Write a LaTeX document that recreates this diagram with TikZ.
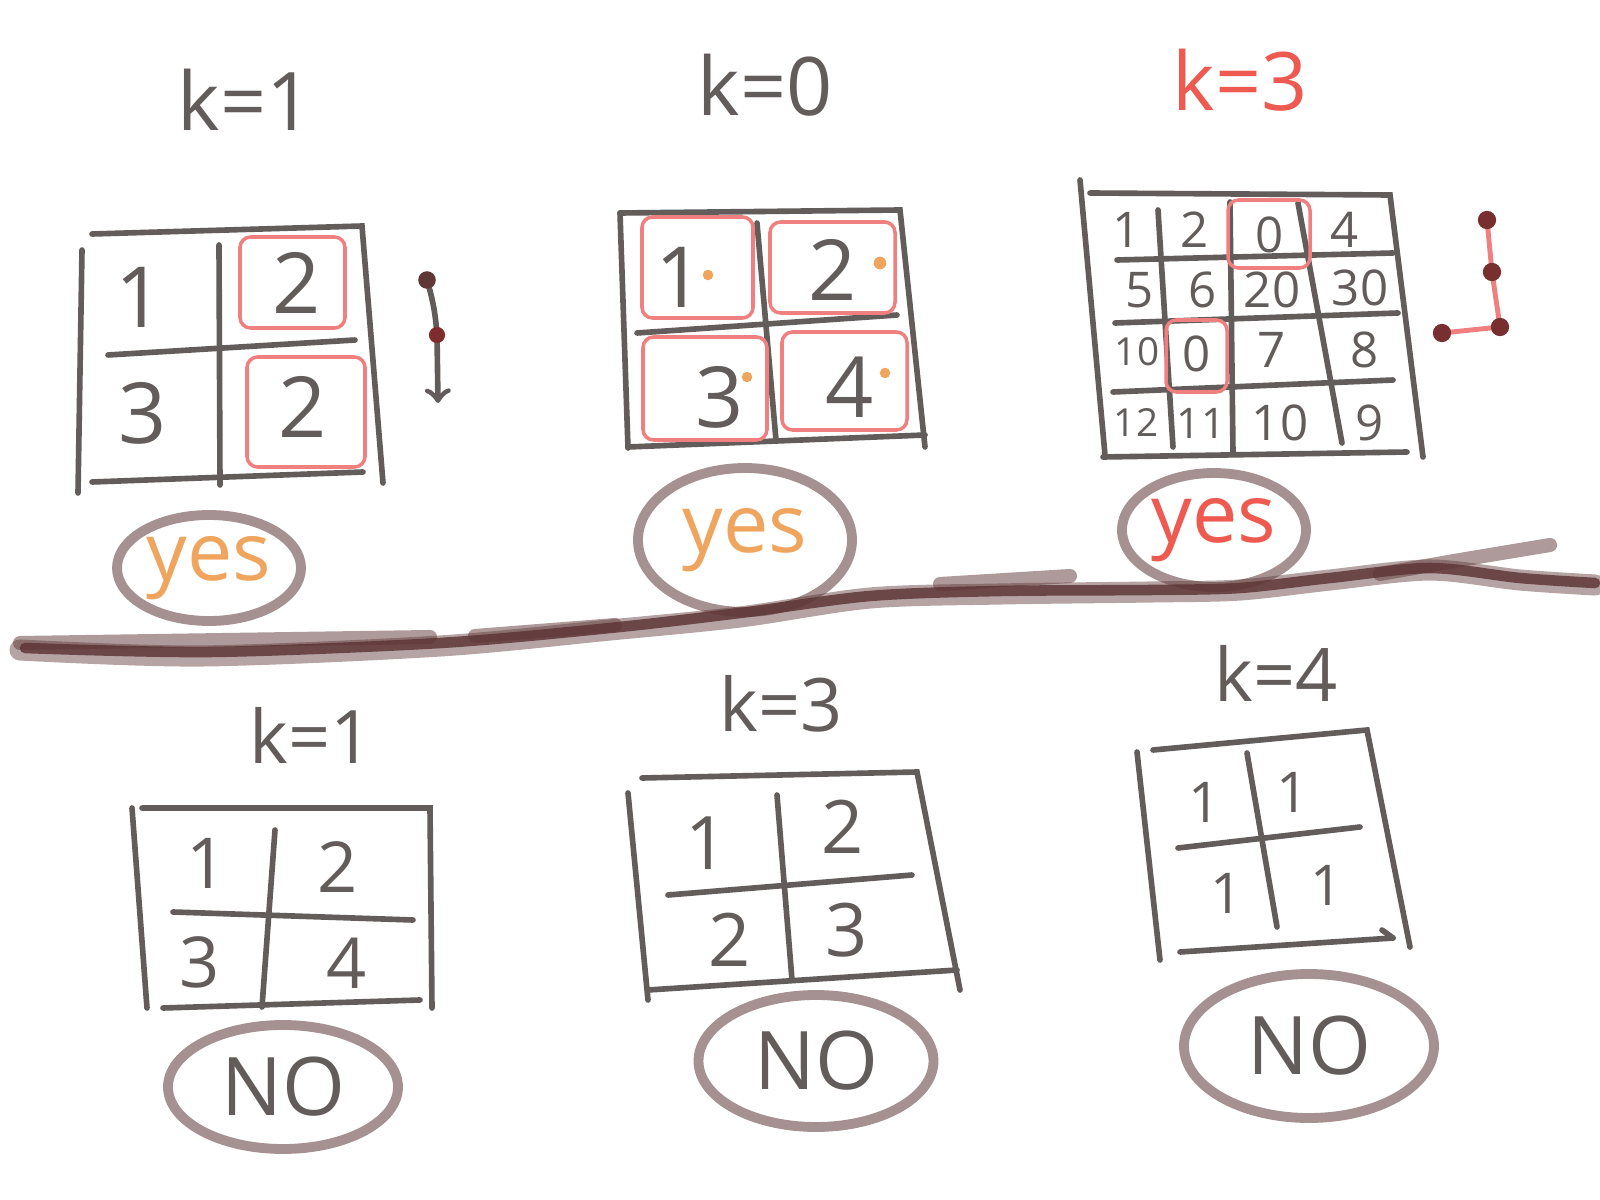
\documentclass[tikz,border=0pt]{standalone}
\usepackage{fontspec}
\setmainfont{Open Sans}
\usetikzlibrary{arrows,shapes,calc}
\definecolor{ink}{RGB}{98,92,90}
\definecolor{pinkred}{RGB}{240,128,128}
\definecolor{lightorange}{RGB}{240,165,95}
\definecolor{penred}{RGB}{238,90,80}
\definecolor{ring}{RGB}{165,145,145}
\definecolor{darkbrown}{RGB}{95,55,55}

\begin{document}
\begin{tikzpicture}[x=0.1mm,y=-0.1mm,
    line/.style={draw=ink,line width=1.6pt,line cap=round},
    pick/.style={draw=pinkred,line width=1pt,rounded corners=3pt},
    heading/.style={text=ink,font=\fontsize{23}{23}\selectfont},
    num/.style={text=ink,font=\fontsize{24}{24}\selectfont},
    smallnum/.style={text=ink,font=\fontsize{14}{14}\selectfont},
    verdict/.style={ellipse,draw=ring,line width=2.8pt,inner sep=0pt,font=\fontsize{23}{23}\selectfont}]

    \fill[white] (0,0) rectangle (1600,1200);
    \useasboundingbox (0,0) rectangle (1600,1200);

    % Headings
    \node[heading] at (245,100) (ktl) {k=1};
    \node[heading] at (765,85) (ktm) {k=0};
    \node[heading,text=penred] at (1240,80) (ktr) {k=3};
    \node[heading,font=\fontsize{21}{21}\selectfont] at (311,735) (kbl) {k=1};
    \node[heading,font=\fontsize{21}{21}\selectfont] at (781,704) (kbm) {k=3};
    \node[heading,font=\fontsize{21}{21}\selectfont] at (1276,673) (kbr) {k=4};

    % Top left grid
    \draw[line] (92,234) -- (362,226) -- (383,483);
    \draw[line] (82,250) -- (78,493);
    \draw[line] (92,482) -- (363,472);
    \draw[line] (219,245) -- (220,485);
    \draw[line] (108,355) -- (355,340);
    \node[num] at (140,297) (a11) {1};
    \node[num] at (297,283) (a12) {2};
    \node[num] at (143,413) (a21) {3};
    \node[num] at (303,407) (a22) {2};
    \draw[pick] (240,237) rectangle (345,328);
    \draw[pick] (247,357) rectangle (365,467);
    \coordinate (s1) at (427,280);
    \coordinate (s2) at (437,335);
    \coordinate (s3) at (438,403);
    \draw[line,->] (s1) to[bend left=6] (s2) -- (s3);
    \fill[darkbrown] (s1) circle (2.5pt);
    \fill[darkbrown!80!red] (s2) circle (2.3pt);

    % Top middle grid
    \draw[line] (620,213) -- (900,210) -- (925,447);
    \draw[line] (620,213) -- (628,448);
    \draw[line] (628,447) -- (925,435);
    \draw[line] (757,223) -- (776,440);
    \draw[line] (637,333) -- (897,315);
    \node[num] at (680,277) (b11) {1};
    \node[num] at (833,270) (b12) {2};
    \node[num] at (720,397) (b21) {3};
    \node[num] at (850,387) (b22) {4};
    \draw[pick] (642,217) rectangle (753,318);
    \draw[pick] (770,222) rectangle (895,313);
    \draw[pick] (643,337) rectangle (767,440);
    \draw[pick] (782,332) rectangle (907,430);
    \fill[lightorange] (708,275) circle (1.5pt);
    \fill[lightorange] (880,263) circle (1.8pt);
    \fill[lightorange] (747,377) circle (1.5pt);
    \fill[lightorange] (885,373) circle (1.5pt);

    % Top right grid
    \draw[line] (1090,193) -- (1390,195) -- (1423,457);
    \draw[line] (1080,180) -- (1105,455);
    \draw[line] (1103,457) -- (1407,452);
    \draw[line] (1117,260) -- (1393,253);
    \draw[line] (1115,323) -- (1398,313);
    \draw[line] (1113,392) -- (1393,380);
    \draw[line] (1158,210) -- (1173,447);
    \draw[line] (1230,202) -- (1233,453);
    \draw[line] (1298,203) -- (1342,443);
    \node[smallnum] at (1127,230) (c11) {1};
    \node[smallnum] at (1195,230) (c12) {2};
    \node[smallnum] at (1270,235) (c13) {0};
    \node[smallnum] at (1345,230) (c14) {4};
    \node[smallnum] at (1140,290) (c21) {5};
    \node[smallnum] at (1203,290) (c22) {6};
    \node[smallnum] at (1272,290) (c23) {20};
    \node[smallnum] at (1360,288) (c24) {30};
    \node[smallnum,font=\fontsize{11}{11}\selectfont] at (1137,352) (c31) {10};
    \node[smallnum] at (1197,354) (c32) {0};
    \node[smallnum] at (1272,350) (c33) {7};
    \node[smallnum] at (1365,350) (c34) {8};
    \node[smallnum,font=\fontsize{11}{11}\selectfont] at (1136,423) (c41) {12};
    \node[smallnum,font=\fontsize{12}{12}\selectfont] at (1201,423) (c42) {11};
    \node[smallnum] at (1280,423) (c43) {10};
    \node[smallnum] at (1370,423) (c44) {9};
    \draw[pick] (1228,200) rectangle (1310,268);
    \draw[pick] (1166,320) rectangle (1227,392);
    \coordinate (p1) at (1487,220);
    \coordinate (p2) at (1492,272);
    \coordinate (p3) at (1500,327);
    \coordinate (p4) at (1442,333);
    \draw[pinkred,line width=1.4pt] (p1) -- (p2) -- (p3) -- (p4);
    \foreach \p in {p1,p2,p3,p4}
        \fill[darkbrown!85!red] (\p) circle (2.6pt);

    % Verdicts on top
    \node[verdict,minimum width=1.84cm,minimum height=1.06cm,text=lightorange] at (209,568) (yesl) {yes};
    \node[verdict,minimum width=2.14cm,minimum height=1.44cm,text=lightorange] at (745,540) (yesm) {yes};
    \node[verdict,minimum width=1.84cm,minimum height=1.14cm,text=penred] at (1214,530) (yesr) {yes};

    % Separator
    \draw[darkbrown,opacity=.45,line width=6pt,line cap=round] plot[smooth] coordinates
        {(20,650) (200,656) (440,646) (610,630) (740,617) (870,598) (1000,594) (1150,592) (1240,590) (1330,580) (1430,570) (1520,580) (1595,585)};
    \draw[darkbrown,opacity=.85,line width=3pt,line cap=round] plot[smooth] coordinates
        {(25,648) (210,652) (440,643) (610,628) (740,613) (870,596) (1000,591) (1150,590) (1240,588) (1330,578) (1430,568) (1520,578) (1595,583)};
    \draw[darkbrown,opacity=.5,line width=4pt,line cap=round] (20,643) -- (430,637);
    \draw[darkbrown,opacity=.5,line width=4pt,line cap=round] (475,636) -- (615,625);
    \draw[darkbrown,opacity=.5,line width=4pt,line cap=round] (940,584) -- (1070,576);
    \draw[darkbrown,opacity=.5,line width=4pt,line cap=round] plot[smooth] coordinates {(1380,574) (1460,560) (1550,545)};

    % Bottom left grid
    \draw[line] (142,808) -- (430,808) -- (432,1008);
    \draw[line] (132,808) -- (147,1008);
    \draw[line] (163,1008) -- (420,1000);
    \draw[line] (275,830) -- (262,1007);
    \draw[line] (173,912) -- (413,920);
    \node[num,font=\fontsize{20}{20}\selectfont] at (207,863) (d11) {1};
    \node[num,font=\fontsize{20}{20}\selectfont] at (338,867) (d12) {2};
    \node[num,font=\fontsize{20}{20}\selectfont] at (200,962) (d21) {3};
    \node[num,font=\fontsize{20}{20}\selectfont] at (347,963) (d22) {4};

    % Bottom middle grid
    \draw[line] (642,778) -- (917,772) -- (960,990);
    \draw[line] (628,793) -- (648,1000);
    \draw[line] (648,990) -- (957,970);
    \draw[line] (777,795) -- (792,980);
    \draw[line] (668,895) -- (912,875);
    \node[num,font=\fontsize{21}{21}\selectfont] at (707,843) (e11) {1};
    \node[num,font=\fontsize{21}{21}\selectfont] at (843,827) (e12) {2};
    \node[num,font=\fontsize{21}{21}\selectfont] at (730,940) (e21) {2};
    \node[num,font=\fontsize{21}{21}\selectfont] at (847,930) (e22) {3};

    % Bottom right grid
    \draw[line] (1153,750) -- (1367,730) -- (1410,947);
    \draw[line] (1137,752) -- (1160,960);
    \draw[line] (1180,952) -- (1393,938);
    \draw[line] (1382,930) -- (1393,938);
    \draw[line] (1247,753) -- (1277,927);
    \draw[line] (1178,848) -- (1360,827);
    \node[num,font=\fontsize{16}{16}\selectfont] at (1205,802) (f11) {1};
    \node[num,font=\fontsize{16}{16}\selectfont] at (1293,792) (f12) {1};
    \node[num,font=\fontsize{16}{16}\selectfont] at (1227,893) (f21) {1};
    \node[num,font=\fontsize{16}{16}\selectfont] at (1327,885) (f22) {1};

    % Verdicts below
    \node[verdict,minimum width=2.3cm,minimum height=1.24cm,text=ink] at (283,1087) (nol) {NO};
    \node[verdict,minimum width=2.35cm,minimum height=1.32cm,text=ink] at (816,1061) (nom) {NO};
    \node[verdict,minimum width=2.5cm,minimum height=1.44cm,text=ink] at (1309,1046) (nor) {NO};
\end{tikzpicture}
\end{document}
